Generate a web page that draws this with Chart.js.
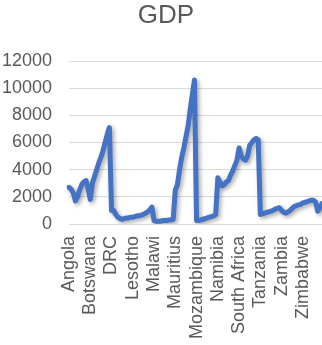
<!DOCTYPE html>
<html>
<head>
<meta charset="utf-8">
<script src="https://cdn.jsdelivr.net/npm/chart.js@4/dist/chart.umd.min.js"></script>
<style>
  html, body { margin: 0; padding: 0; background: #fff; }
  #wrap { width: 322px; height: 345px; }
</style>
</head>
<body>
<div id="wrap"><canvas id="gdp"></canvas></div>
<script>
// countries, in the order they sit on the axis
var countries = ['Angola', 'Botswana', 'DRC', 'Lesotho', 'Malawi', 'Mauritius',
  'Mozambique', 'Namibia', 'South Africa', 'Tanzania', 'Zambia', 'Zimbabwe'];

// yearly GDP values for each country
var angola      = [2700, 2550, 2300, 1700, 2000, 2500, 2900, 3100, 3200, 2600];
var botswana    = [1800, 3000, 3500, 4000, 4500, 4900, 5400, 6000, 6600, 7100];
var drc         = [1000, 1000, 700, 500, 400, 350, 400, 450, 450, 500];
var lesotho     = [500, 550, 600, 600, 650, 700, 800, 900, 1050, 1250];
var malawi      = [250, 200, 200, 200, 250, 250, 250, 300, 300, 350];
var mauritius   = [2500, 2900, 4000, 4900, 5600, 6400, 7200, 8400, 9500, 10600];
var mozambique  = [250, 250, 300, 350, 400, 450, 500, 550, 600, 700];
var namibia     = [3400, 3100, 2800, 2900, 3100, 3200, 3600, 3900, 4300, 4700];
var southAfrica = [5600, 5000, 4800, 4700, 5000, 5800, 6000, 6200, 6300, 6200];
var tanzania    = [700, 750, 800, 850, 900, 950, 1000, 1100, 1150, 1200];
var zambia      = [1000, 850, 800, 900, 1000, 1150, 1300, 1350, 1400, 1450];
var zimbabwe    = [1550, 1600, 1650, 1700, 1750, 1750, 1600, 950, 1200, 1500];

var yTicks = [0, 2000, 4000, 6000, 8000, 10000, 12000];

var series = [angola, botswana, drc, lesotho, malawi, mauritius,
  mozambique, namibia, southAfrica, tanzania, zambia, zimbabwe];

// one long row: country name only on its first year
var labels = [];
var values = [];
series.forEach(function(s, i) {
  s.forEach(function(v, j) {
    labels.push(j === 0 ? countries[i] : '');
    values.push(v);
  });
});

var grey = '#595959';
var fontFam = '"Liberation Sans", Arial, sans-serif';

// soft drop shadow under the line
var lineShadow = {
  id: 'lineShadow',
  beforeDatasetsDraw: function(chart) {
    var c = chart.ctx;
    c.save();
    c.shadowColor = 'rgba(0, 0, 0, 0.35)';
    c.shadowBlur = 4;
    c.shadowOffsetX = 2;
    c.shadowOffsetY = 2;
  },
  afterDatasetsDraw: function(chart) {
    chart.ctx.restore();
  }
};

// centre the title a little to the right, over the plot
var titleNudge = {
  id: 'titleNudge',
  afterLayout: function(chart) {
    if (chart.titleBlock) chart.titleBlock.left = 10;
  }
};

var ctx = document.getElementById('gdp');

var myChart = new Chart(ctx, {
  type: 'line',
  data: {
    labels: labels,
    datasets: [{
      label: 'GDP',
      data: values,
      borderColor: '#4472C4',
      borderWidth: 5,
      borderJoinStyle: 'round',
      borderCapStyle: 'round',
      pointRadius: 0,
      tension: 0,
      fill: false
    }]
  },
  options: {
    responsive: true,
    maintainAspectRatio: false,
    animation: false,
    layout: { padding: 0 },
    plugins: {
      legend: { display: false },
      tooltip: { enabled: false },
      title: {
        display: true,
        text: 'GDP',
        color: grey,
        font: { family: fontFam, size: 26, weight: 'normal', lineHeight: 1 },
        padding: { top: 3, bottom: 32 }
      }
    },
    scales: {
      x: {
        grid: { display: false, drawTicks: false },
        border: { display: false },
        ticks: {
          autoSkip: false,
          minRotation: 90,
          maxRotation: 90,
          padding: 12,
          color: grey,
          font: { family: fontFam, size: 18 }
        },
        afterFit: function(scale) {
          scale.height = 121;
          scale.paddingLeft = 0;
          scale.paddingRight = 0;
        }
      },
      y: {
        min: 0,
        max: 12000,
        afterBuildTicks: function(scale) {
          scale.ticks = yTicks.map(function(v) { return { value: v }; });
        },
        grid: { color: '#D9D9D9', lineWidth: 1, drawTicks: false },
        border: { display: false },
        ticks: {
          padding: 17,
          color: grey,
          font: { family: fontFam, size: 18 },
          callback: function(v) { return String(v); }
        },
        afterFit: function(scale) {
          scale.width = 69;
          scale.paddingTop = 0;
          scale.paddingBottom = 0;
        }
      }
    }
  },
  plugins: [lineShadow, titleNudge]
});
</script>
</body>
</html>
